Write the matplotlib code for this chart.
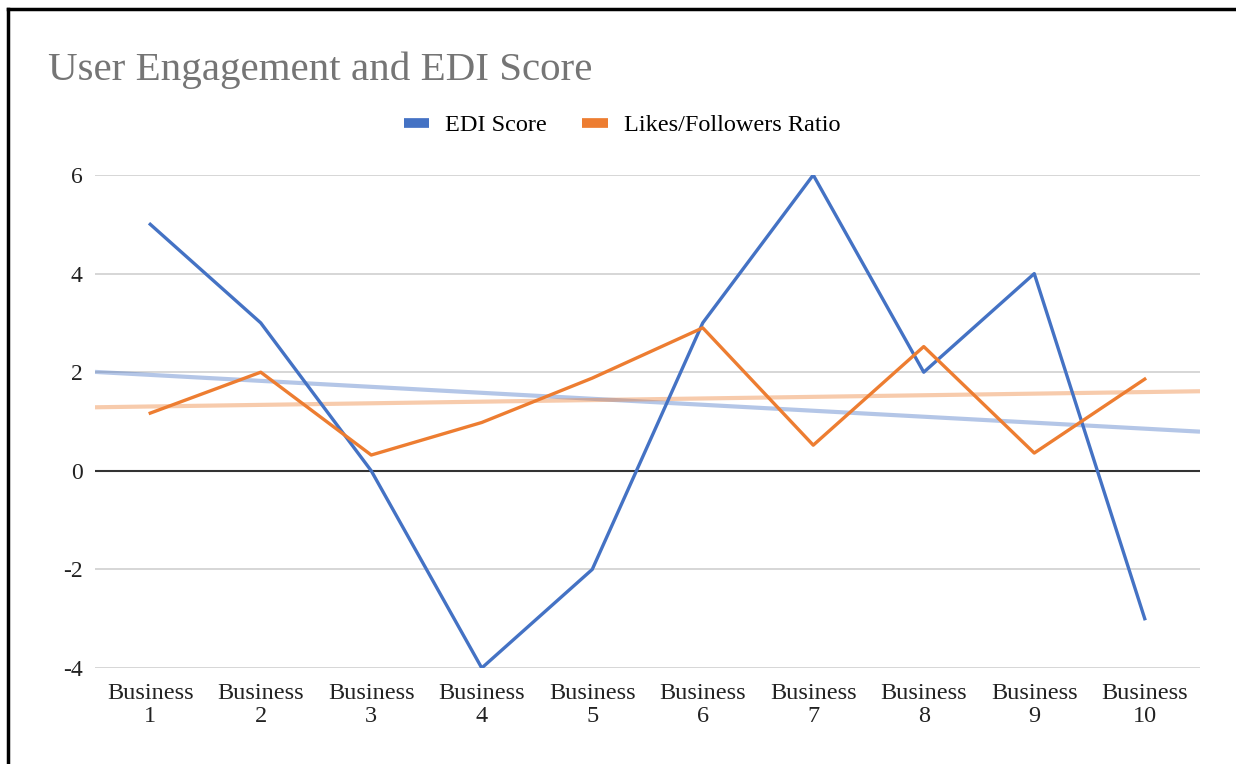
import numpy as np
import matplotlib.pyplot as plt
from matplotlib.lines import Line2D

# data
businesses = ["Business\n1", "Business\n2", "Business\n3", "Business\n4", "Business\n5",
              "Business\n6", "Business\n7", "Business\n8", "Business\n9", "Business\n10"]
edi_score = [5, 3, 0, -4, -2, 3, 6, 2, 4, -3]
likes_ratio = [1.17, 2.0, 0.32, 0.98, 1.88, 2.9, 0.52, 2.52, 0.36, 1.86]
y_ticks = [-4, -2, 0, 2, 4, 6]

BLUE = "#4472C4"
ORANGE = "#ED7D31"

plt.rcParams['font.family'] = ['Liberation Serif', 'DejaVu Serif']

W, H = 1236, 764
fig = plt.figure(figsize=(W / 100, H / 100), dpi=100)
ax = fig.add_axes([95 / W, 1 - 668 / H, (1200 - 95) / W, (668 - 175) / H])

x = np.arange(1, len(businesses) + 1)

# linear trendlines across the whole plot width
xt = np.array([0.5, len(businesses) + 0.5])
for vals, c in [(edi_score, BLUE), (likes_ratio, ORANGE)]:
    k, b = np.polyfit(x, vals, 1)
    ax.plot(xt, k * xt + b, color=c, lw=3, alpha=0.4, solid_capstyle='butt', zorder=2)

ax.plot(x, edi_score, color=BLUE, lw=2.4, zorder=3)
ax.plot(x, likes_ratio, color=ORANGE, lw=2.4, zorder=3)

ax.set_xlim(0.5, len(businesses) + 0.5)
ax.set_ylim(-4, 6)
ax.set_yticks(y_ticks)
ax.set_yticklabels([str(v) for v in y_ticks])
ax.set_xticks(x)
ax.set_xticklabels(businesses, linespacing=1.12)
ax.tick_params(axis='y', length=0, pad=9, labelsize=17, labelcolor='#222222')
ax.tick_params(axis='x', length=0, pad=11, labelsize=17.5, labelcolor='#222222')

ax.grid(axis='y', color='#cccccc', lw=1.1, zorder=1)
ax.axhline(0, color='#333333', lw=1.5, zorder=2.5)
for s in ax.spines.values():
    s.set_visible(False)

fig.text(48 / W, 1 - 80 / H, "User Engagement and EDI Score", fontsize=29.5,
         color='#757575', va='baseline', ha='left')

handles = [Line2D([], [], color=BLUE, lw=7, solid_capstyle='butt'),
           Line2D([], [], color=ORANGE, lw=7, solid_capstyle='butt')]
fig.legend(handles, ["EDI Score", "Likes/Followers Ratio"], loc='center',
           bbox_to_anchor=(622 / W, 1 - 125 / H), ncol=2, frameon=False,
           fontsize=17.5, handlelength=1.05, handletextpad=0.65, columnspacing=1.45)

# page border (left and top)
fig.add_artist(Line2D([7.5 / W, 7.5 / W], [0, 1 - 9 / H], color='black', lw=2.5,
                      transform=fig.transFigure, solid_capstyle='projecting'))
fig.add_artist(Line2D([7.5 / W, 1], [1 - 9 / H, 1 - 9 / H], color='black', lw=2.5,
                      transform=fig.transFigure))

fig.savefig("out.png", dpi=100)
